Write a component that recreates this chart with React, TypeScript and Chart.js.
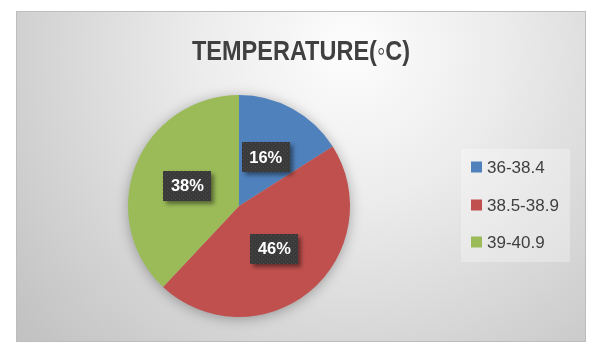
import React, { useEffect, useRef } from "react";
import { Chart, registerables } from "chart.js";

Chart.register(...registerables);

const titleText = "TEMPERATURE(◦C)";
const categories = ["36-38.4", "38.5-38.9", "39-40.9"];
const values = [16, 46, 38];
const colors = ["#4F81BD", "#C0504D", "#9BBB59"];

const FONT = "'Liberation Sans', Arial, sans-serif";

function makePattern(ctx: CanvasRenderingContext2D) {
  const c = document.createElement("canvas");
  c.width = 4;
  c.height = 4;
  const p = c.getContext("2d")!;
  p.fillStyle = "#3a3a3a";
  p.fillRect(0, 0, 4, 4);
  p.fillStyle = "#4a4a4a";
  p.fillRect(1, 1, 1, 1);
  p.fillRect(3, 3, 1, 1);
  return ctx.createPattern(c, "repeat");
}

function fitText(ctx: CanvasRenderingContext2D, txt: string, cx: number, y: number, targetW: number) {
  const w = ctx.measureText(txt).width;
  const s = targetW / w;
  ctx.save();
  ctx.translate(cx, y);
  ctx.scale(s, 1);
  ctx.textAlign = "center";
  ctx.fillText(txt, 0, 0);
  ctx.restore();
}

const decorPlugin = {
  id: "decor",
  beforeDraw(chart: any) {
    const ctx: CanvasRenderingContext2D = chart.ctx;
    ctx.save();
    ctx.fillStyle = "#ffffff";
    ctx.fillRect(0, 0, chart.width, chart.height);
    const x0 = 16, y0 = 11, x1 = 586, y1 = 342;
    const g = ctx.createRadialGradient(350, 50, 0, 350, 50, 430);
    g.addColorStop(0, "#fdfdfd");
    g.addColorStop(0.35, "#ececec");
    g.addColorStop(1, "#c2c2c2");
    ctx.fillStyle = g;
    ctx.fillRect(x0, y0, x1 - x0, y1 - y0);
    ctx.strokeStyle = "#bdbdbd";
    ctx.lineWidth = 1;
    ctx.strokeRect(x0 + 0.5, y0 + 0.5, x1 - x0 - 1, y1 - y0 - 1);
    ctx.restore();
  },
  beforeDatasetsDraw(chart: any) {
    const ctx: CanvasRenderingContext2D = chart.ctx;
    const arc = chart.getDatasetMeta(0).data[0];
    if (!arc) return;
    ctx.save();
    ctx.shadowColor = "rgba(0,0,0,0.35)";
    ctx.shadowBlur = 14;
    ctx.shadowOffsetX = 0;
    ctx.shadowOffsetY = 2;
    ctx.fillStyle = "#bbbbbb";
    ctx.beginPath();
    ctx.arc(arc.x, arc.y, arc.outerRadius - 1, 0, Math.PI * 2);
    ctx.fill();
    ctx.restore();
  },
  afterDatasetsDraw(chart: any) {
    const ctx: CanvasRenderingContext2D = chart.ctx;
    const meta = chart.getDatasetMeta(0);
    const total = values.reduce((a, b) => a + b, 0);
    const pat = makePattern(ctx);
    meta.data.forEach((el: any, i: number) => {
      const pos = el.tooltipPosition();
      const txt = Math.round((values[i] / total) * 100) + "%";
      const w = 48, h = 30;
      ctx.save();
      ctx.shadowColor = "rgba(0,0,0,0.45)";
      ctx.shadowBlur = 4;
      ctx.shadowOffsetX = 3;
      ctx.shadowOffsetY = 3;
      ctx.fillStyle = pat || "#3a3a3a";
      ctx.fillRect(Math.round(pos.x - w / 2), Math.round(pos.y - h / 2), w, h);
      ctx.restore();
      ctx.save();
      ctx.fillStyle = "#ffffff";
      ctx.font = `bold 17px ${FONT}`;
      ctx.textBaseline = "middle";
      fitText(ctx, txt, pos.x, pos.y + 1, 33);
      ctx.restore();
    });
  },
  afterDraw(chart: any) {
    const ctx: CanvasRenderingContext2D = chart.ctx;
    ctx.save();
    // title
    ctx.fillStyle = "#404040";
    ctx.font = `bold 28px ${FONT}`;
    ctx.textBaseline = "alphabetic";
    fitText(ctx, titleText, 301, 60, 218);
    // legend
    const lx = 461, ly = 149, lw = 109, lh = 113;
    ctx.fillStyle = "rgba(255,255,255,0.3)";
    ctx.fillRect(lx, ly, lw, lh);
    const rowY = [167, 205, 242];
    ctx.font = `17px ${FONT}`;
    ctx.textAlign = "left";
    ctx.textBaseline = "middle";
    categories.forEach((c, i) => {
      ctx.fillStyle = colors[i];
      ctx.fillRect(471, rowY[i] - 5.5, 11, 11);
      ctx.fillStyle = "#404040";
      ctx.fillText(c, 487, rowY[i] + 1);
    });
    ctx.restore();
  },
};

export default function App() {
  const ref = useRef<HTMLCanvasElement>(null);
  useEffect(() => {
    document.body.style.margin = "0";
    const canvas = ref.current!;
    const chart = new Chart(canvas, {
      type: "pie",
      data: {
        labels: categories,
        datasets: [
          {
            data: values,
            backgroundColor: colors,
            borderColor: colors,
            borderWidth: 0,
          },
        ],
      },
      options: {
        responsive: false,
        animation: false,
        devicePixelRatio: 1,
        layout: { padding: { left: 128, right: 251, top: 95, bottom: 35 } },
        plugins: {
          legend: { display: false },
          title: { display: false },
          tooltip: { enabled: false },
        },
      },
      plugins: [decorPlugin],
    });
    return () => chart.destroy();
  }, []);
  return (
    <div style={{ width: 601, height: 352 }}>
      <canvas ref={ref} width={601} height={352} />
    </div>
  );
}
